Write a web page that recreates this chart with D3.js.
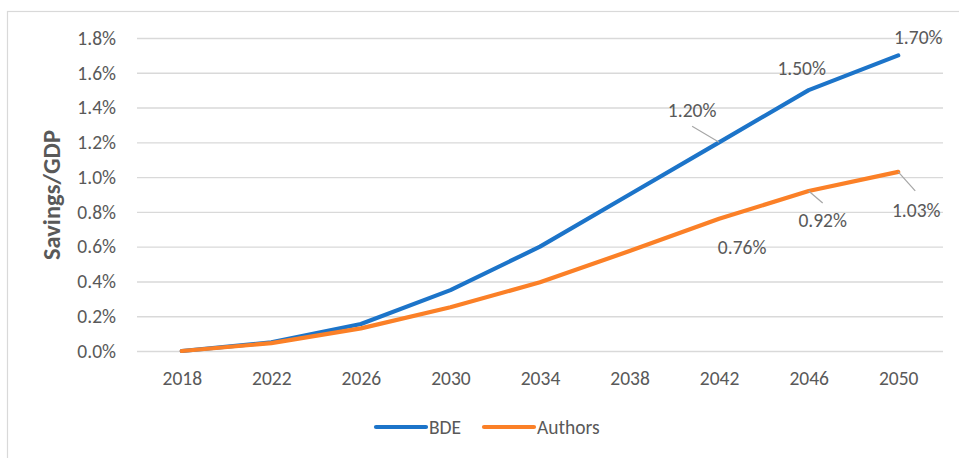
<!DOCTYPE html>
<html>
<head>
<meta charset="utf-8">
<script src="https://cdn.jsdelivr.net/npm/d3@7/dist/d3.min.js"></script>
<style>
  html, body { margin: 0; padding: 0; background: #fff; }
  svg { display: block; }
  text { font-family: Carlito, Lato, "Liberation Sans", sans-serif; fill: #595959; }
</style>
</head>
<body>
<svg id="chart" width="959" height="458"></svg>
<script>
// Savings as a share of GDP, by year
const years = ["2018", "2022", "2026", "2030", "2034", "2038", "2042", "2046", "2050"];
const bde = [0.0, 0.05, 0.155, 0.35, 0.60, 0.90, 1.20, 1.50, 1.70];
const authors = [0.0, 0.045, 0.13, 0.252, 0.395, 0.575, 0.76, 0.92, 1.03];
const yTicks = [0, 0.2, 0.4, 0.6, 0.8, 1.0, 1.2, 1.4, 1.6, 1.8];

// Data labels: year index, text offset from the point, optional leader end
const bdeLabels = [
  { i: 6, dx: -27, dy: -32, leader: [-27, -16] },
  { i: 7, dx: -7, dy: -22 },
  { i: 8, dx: 20, dy: -18 }
];
const authorLabels = [
  { i: 6, dx: 23, dy: 28 },
  { i: 7, dx: 14, dy: 29, leader: [14, 12] },
  { i: 8, dx: 18, dy: 38, leader: [17, 19] }
];

const series = [
  { name: "BDE", values: bde, color: "#1c74c9", labels: bdeLabels },
  { name: "Authors", values: authors, color: "#fb8027", labels: authorLabels }
];

const FS = 19.5;
const svg = d3.select("#chart");
const W = 959, H = 458;

// Outer chart frame
svg.append("rect")
  .attr("x", 7.5).attr("y", 11.5)
  .attr("width", W + 10).attr("height", H + 10)
  .attr("fill", "none").attr("stroke", "#d9d9d9").attr("stroke-width", 1.2);

const plot = { left: 137, right: 943, top: 38, bottom: 351 };

const x = d3.scalePoint().domain(years)
  .range([plot.left, plot.right]).padding(0.5);
const y = d3.scaleLinear().domain([0, 1.8]).range([plot.bottom, plot.top]);

// Horizontal gridlines with percentage labels
const yAxis = d3.axisLeft(y)
  .tickValues(yTicks)
  .tickSize(-(plot.right - plot.left))
  .tickPadding(21)
  .tickFormat(d => d.toFixed(1) + "%");
const gy = svg.append("g")
  .attr("transform", `translate(${plot.left},0)`)
  .call(yAxis);
gy.select(".domain").remove();
gy.selectAll(".tick line").attr("stroke", "#d9d9d9").attr("stroke-width", 1.4);
gy.selectAll(".tick text").attr("font-size", FS).attr("fill", "#595959");

// Category labels
const xAxis = d3.axisBottom(x).tickSize(0).tickPadding(20);
const gx = svg.append("g")
  .attr("transform", `translate(0,${plot.bottom})`)
  .call(xAxis);
gx.select(".domain").remove();
gx.selectAll(".tick text").attr("font-size", FS).attr("fill", "#595959");

// Axis title
svg.append("text")
  .attr("transform", "translate(60,195) rotate(-90)")
  .attr("text-anchor", "middle")
  .attr("font-size", 24.5)
  .attr("font-weight", "bold")
  .text("Savings/GDP");

const line = d3.line()
  .x((d, i) => x(years[i]))
  .y(d => y(d));

// Series lines
series.forEach(s => {
  svg.append("path")
    .datum(s.values)
    .attr("d", line)
    .attr("fill", "none")
    .attr("stroke", s.color)
    .attr("stroke-width", 4.2)
    .attr("stroke-linejoin", "round")
    .attr("stroke-linecap", "round");
});

// Data labels and leader lines
series.forEach(s => {
  s.labels.forEach(l => {
    const px = x(years[l.i]), py = y(s.values[l.i]);
    if (l.leader) {
      svg.append("line")
        .attr("x1", px).attr("y1", py)
        .attr("x2", px + l.leader[0]).attr("y2", py + l.leader[1])
        .attr("stroke", "#a6a6a6").attr("stroke-width", 1.2);
    }
    svg.append("text")
      .attr("x", px + l.dx).attr("y", py + l.dy)
      .attr("dy", "0.35em")
      .attr("text-anchor", "middle")
      .attr("font-size", FS)
      .text(s.values[l.i].toFixed(2) + "%");
  });
});

// Legend
const legend = [
  { name: "BDE", color: series[0].color, x1: 376, x2: 426 },
  { name: "Authors", color: series[1].color, x1: 484, x2: 534 }
];
legend.forEach(d => {
  svg.append("line")
    .attr("x1", d.x1).attr("x2", d.x2)
    .attr("y1", 427).attr("y2", 427)
    .attr("stroke", d.color).attr("stroke-width", 4.2)
    .attr("stroke-linecap", "round");
  svg.append("text")
    .attr("x", d.x2 + 3).attr("y", 427)
    .attr("dy", "0.35em")
    .attr("font-size", FS)
    .text(d.name);
});
</script>
</body>
</html>
